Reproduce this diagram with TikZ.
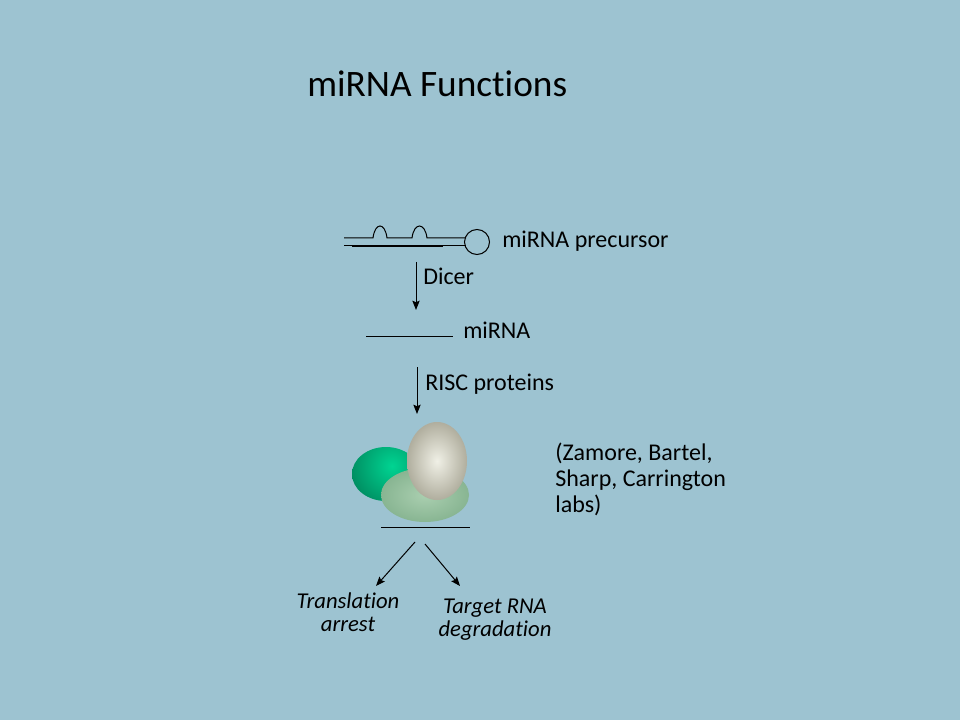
\documentclass[tikz,border=0pt]{standalone}
\usepackage{fontspec}
\setmainfont{Carlito}[Ligatures={NoCommon,NoRare,NoContextual},Contextuals=NoAlternate]
\usetikzlibrary{arrows.meta}
\definecolor{slidebg}{HTML}{9DC3D1}
\definecolor{darkblob}{HTML}{00573B}
\definecolor{darkglow}{HTML}{00D492}
\definecolor{paleblob}{HTML}{88B592}
\definecolor{paleglow}{HTML}{AACFB0}
\definecolor{eggrim}{HTML}{B0AE9E}
\definecolor{eggglow}{HTML}{F0F0E6}
\tikzset{
  word/.style={inner sep=0pt, anchor=base west, font=\fontsize{18}{19.5}\selectfont},
  outcome/.style={inner sep=0pt, align=center, font=\fontsize{17}{17.5}\selectfont\itshape},
  steparrow/.style={-{Stealth[length=7pt,width=5.5pt,inset=1.2pt]}, line width=0.75pt},
  strand/.style={line width=0.75pt}
}
\begin{document}
\begin{tikzpicture}[x=0.75pt,y=-0.75pt]
\fill[slidebg] (0,0) rectangle (960,720);
\useasboundingbox (0,0) rectangle (960,720);
\node[word, font=\fontsize{28}{30}\selectfont] (title) at (307,97) {miRNA Functions};
% precursor hairpin
\draw[strand] (344,238) -- (373,238) .. controls (375,222) and (385,222) .. (387,238)
  -- (412,238) .. controls (414,222) and (425,222) .. (427,238) -- (466,238);
\draw[strand] (344,246) -- (466,246);
\draw[line width=1.5pt] (352,246) -- (443,246);
\draw[strand] (477,242) circle[radius=12.5];
\node[word] (precursor) at (502,248) {miRNA precursor};
% dicer step
\coordinate (dicer top) at (416,262);
\coordinate (dicer end) at (416,310);
\draw[steparrow] (dicer top) -- (dicer end);
\node[word] (dicer) at (423,285) {Dicer};
\draw[strand] (366,336) -- (453,336);
\node[word] (mirna) at (463,338) {miRNA};
% risc step
\coordinate (risc top) at (417,367);
\coordinate (risc end) at (417,414);
\draw[steparrow] (risc top) -- (risc end);
\node[word] (risc) at (425,390) {RISC proteins};
% proteins
\begin{scope}
  \clip (386,474) ellipse[x radius=34, y radius=27];
  \shade[inner color=darkglow, outer color=darkblob] (392,466) circle[radius=75];
\end{scope}
\shade[inner color=paleglow, outer color=paleblob] (425,495) ellipse[x radius=44, y radius=27];
\shade[inner color=eggglow, outer color=eggrim] (437,461) ellipse[x radius=30, y radius=39];
\draw[strand] (381,527) -- (470,527);
\node[word, align=left, anchor=north west] (labs) at (555,443)
  {(Zamore, Bartel,\\Sharp, Carrington\\labs)};
% outcomes
\coordinate (fork left) at (415,542);
\coordinate (fork right) at (425,544);
\node[outcome] (arrest) at (348,612) {Translation\\arrest};
\node[outcome] (degrade) at (495,620) {Target RNA\\degradation};
\draw[steparrow] (fork left) -- (376,586);
\draw[steparrow] (fork right) -- (460,586);
\end{tikzpicture}
\end{document}
